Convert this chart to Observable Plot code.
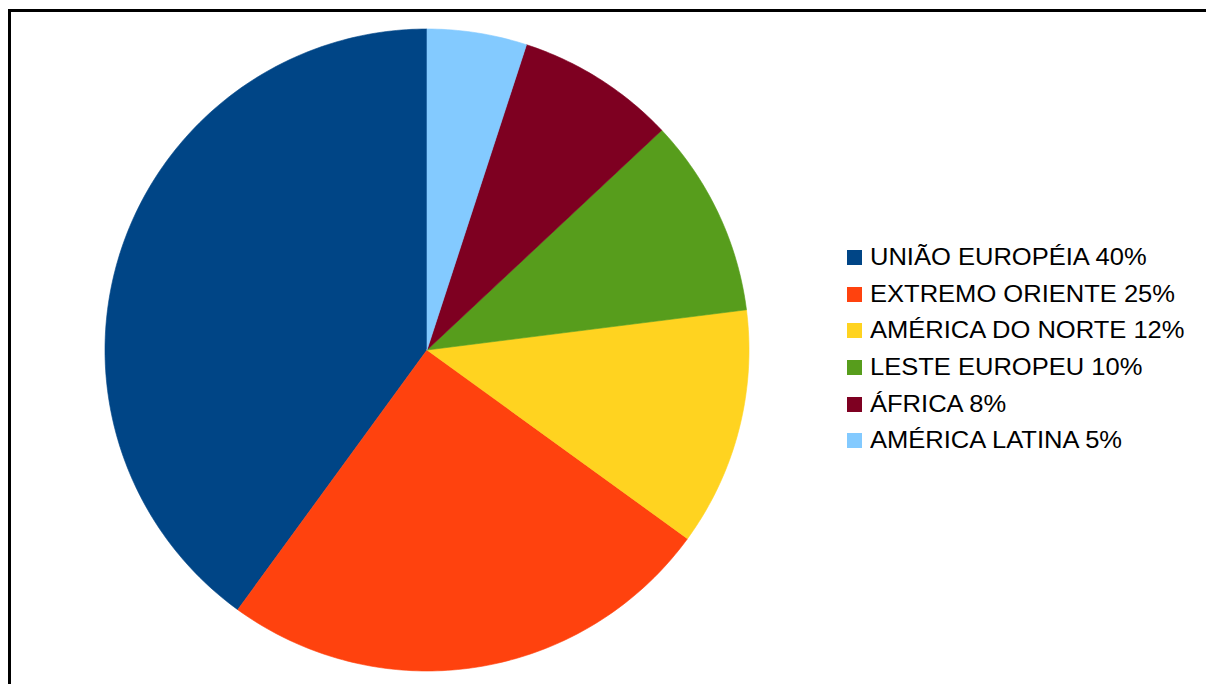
<!DOCTYPE html>
<html>
<head>
<meta charset="utf-8">
<script src="https://cdn.jsdelivr.net/npm/d3@7"></script>
<script src="https://cdn.jsdelivr.net/npm/@observablehq/plot@0.6"></script>
<style>
  html, body { margin: 0; padding: 0; width: 1206px; height: 684px; overflow: hidden; background: #fff; }
  #frame { position: absolute; left: 8px; top: 9px; width: 1300px; height: 800px; border: 3px solid #000; }
  #chart { position: absolute; left: 0; top: 0; }
  #legend { position: absolute; left: 847px; top: 239px; font-family: "Liberation Sans", Arial, sans-serif; font-size: 23px; color: #000; }
  .item { display: flex; align-items: center; height: 36.7px; }
  .sw { width: 15px; height: 15px; margin-right: 8px; flex: none; }
  .lbl { display: inline-block; transform: scaleX(1.11); transform-origin: left center; white-space: nowrap; }
</style>
</head>
<body>
<div id="frame"></div>
<div id="chart"></div>
<div id="legend"></div>
<script>
const categories = ["UNIÃO EUROPÉIA", "EXTREMO ORIENTE", "AMÉRICA DO NORTE", "LESTE EUROPEU", "ÁFRICA", "AMÉRICA LATINA"];
const values = [40, 25, 12, 10, 8, 5];
const colors = ["#004586", "#ff420e", "#ffd320", "#579d1c", "#7e0021", "#83caff"];

const total = d3.sum(values);
const ends = d3.cumsum(values);
const rows = [];
categories.forEach((cat, i) => {
  const a0 = Math.PI / 2 + 2 * Math.PI * (ends[i] - values[i]) / total;
  const a1 = Math.PI / 2 + 2 * Math.PI * ends[i] / total;
  const n = Math.max(4, Math.ceil((a1 - a0) / (2 * Math.PI) * 400));
  rows.push({cat, x: 0, y: 0});
  for (let k = 0; k <= n; k++) {
    const a = a0 + (a1 - a0) * k / n;
    rows.push({cat, x: Math.cos(a), y: Math.sin(a)});
  }
  rows.push({cat, x: 0, y: 0});
});

const cx = 426.5, cy = 349.5, rx = 322, ry = 321;
const plot = Plot.plot({
  width: 1206,
  height: 684,
  margin: 0,
  x: {domain: [-1, 1], range: [cx - rx, cx + rx], axis: null},
  y: {domain: [-1, 1], range: [cy + ry, cy - ry], axis: null},
  color: {domain: categories, range: colors},
  style: {background: "transparent"},
  marks: [
    Plot.line(rows, {x: "x", y: "y", z: "cat", fill: "cat", stroke: "cat", strokeWidth: 0.6, curve: "linear"})
  ]
});
document.getElementById("chart").appendChild(plot);

const legend = d3.select("#legend");
categories.forEach((cat, i) => {
  const item = legend.append("div").attr("class", "item");
  item.append("div").attr("class", "sw").style("background", colors[i]);
  item.append("span").attr("class", "lbl").text(`${cat} ${values[i]}%`);
});
</script>
</body>
</html>
